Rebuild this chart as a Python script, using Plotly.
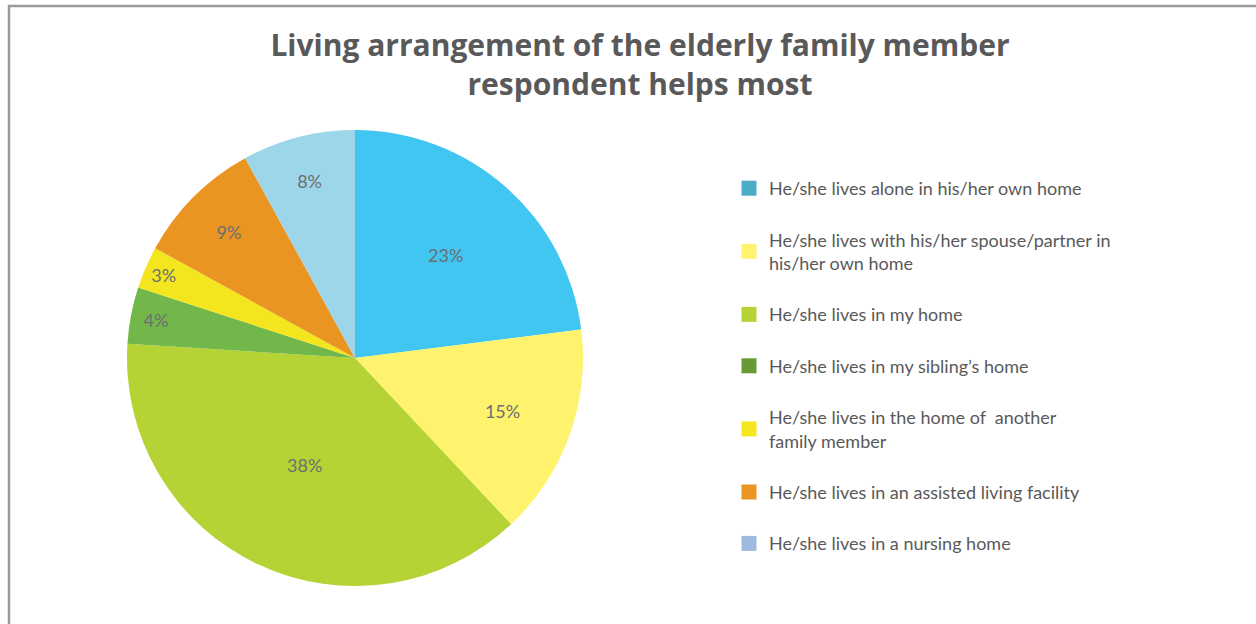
import plotly.graph_objects as go

# Living arrangement shares (percent of respondents)
categories = [
    "He/she lives alone in his/her own home",
    "He/she lives with his/her spouse/partner in his/her own home",
    "He/she lives in my home",
    "He/she lives in my sibling\u2019s home",
    "He/she lives in the home of  another family member",
    "He/she lives in an assisted living facility",
    "He/she lives in a nursing home",
]
shares = [23, 15, 38, 4, 3, 9, 8]

legend_labels = [
    "He/she lives alone in his/her own home",
    "He/she lives with his/her spouse/partner in<br>his/her own home",
    "He/she lives in my home",
    "He/she lives in my sibling\u2019s home",
    "He/she lives in the home of  another<br>family member",
    "He/she lives in an assisted living facility",
    "He/she lives in a nursing home",
]

slice_colors = ["#41C6F2", "#FFF36E", "#B5D334", "#72B74A", "#F4E61E", "#EA9522", "#9CD6E8"]
legend_colors = ["#4BACC6", "#FFF26E", "#B5D334", "#679A35", "#F5E61E", "#EA9522", "#9DB9DE"]

W, H = 1256, 624
TEXT_GREY = "#6D6E71"

fig = go.Figure()

fig.add_trace(go.Pie(
    labels=categories,
    values=shares,
    sort=False,
    direction="clockwise",
    rotation=0,
    marker=dict(colors=slice_colors, line=dict(width=0)),
    texttemplate="%{value}%",
    textposition="inside",
    insidetextorientation="horizontal",
    textfont=dict(family="Lato", size=18, color=TEXT_GREY),
    hoverinfo="skip",
    showlegend=False,
    domain=dict(x=[127 / W, 583 / W], y=[1 - 586 / H, 1 - 130 / H]),
))

# Legend entries drawn as empty marker traces so the swatches carry their own colours
for name, col in zip(legend_labels, legend_colors):
    fig.add_trace(go.Scatter(
        x=[None], y=[None], mode="markers", name=name, legendgroup=name,
        marker=dict(symbol="square", size=15, color=col),
        hoverinfo="skip",
    ))

fig.update_layout(
    width=W, height=H,
    margin=dict(l=0, r=0, t=0, b=0),
    paper_bgcolor="white",
    plot_bgcolor="white",
    xaxis=dict(visible=False),
    yaxis=dict(visible=False),
    title=dict(
        text="Living arrangement of the elderly family member<br>respondent helps most",
        x=640 / W, xanchor="center",
        y=1 - 56 / H, yanchor="top",
        font=dict(family="Open Sans", size=30, color="#595959", weight="bold"),
    ),
    legend=dict(
        x=729 / W, xanchor="left",
        y=1 - 170 / H, yanchor="top",
        font=dict(family="Lato", size=18, color="#595959"),
        tracegroupgap=25,
        bgcolor="rgba(0,0,0,0)",
    ),
    shapes=[
        dict(type="line", xref="paper", yref="paper", x0=8 / W, x1=1, y0=1 - 6 / H, y1=1 - 6 / H,
             line=dict(color="#9A9A9E", width=2.5)),
        dict(type="line", xref="paper", yref="paper", x0=9 / W, x1=9 / W, y0=0, y1=1 - 5 / H,
             line=dict(color="#9A9A9E", width=2.5)),
    ],
)

fig.write_html("out.html")
